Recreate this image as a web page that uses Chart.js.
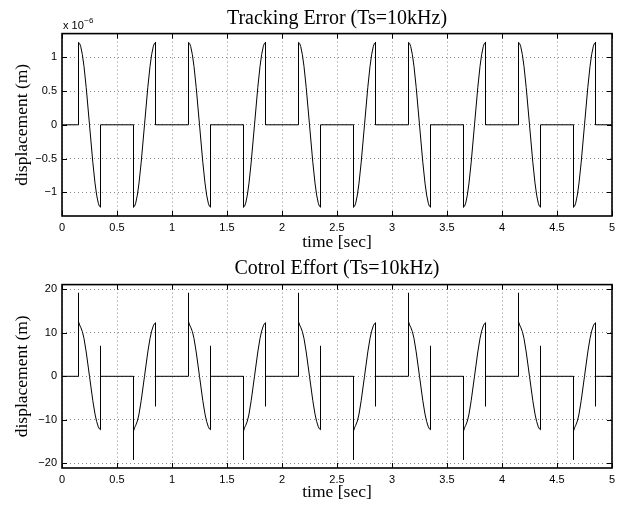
<!DOCTYPE html>
<html>
<head>
<meta charset="utf-8">
<script src="https://cdn.jsdelivr.net/npm/chart.js@4.4.1/dist/chart.umd.min.js"></script>
<style>
  html, body { margin: 0; padding: 0; background: #ffffff; }
  #wrap { position: relative; width: 627px; height: 505px; overflow: hidden; background: #fff; }
  #cA { position: absolute; left: 0; top: 0; }
  #cB { position: absolute; left: 0; top: 250px; }
</style>
</head>
<body>
<div id="wrap">
  <canvas id="cA" width="627" height="250"></canvas>
  <canvas id="cB" width="627" height="255"></canvas>
</div>
<script>
// ---------------- DATA ----------------
// Titles / labels
const titleTop = 'Tracking Error (Ts=10kHz)';
const titleBottom = 'Cotrol Effort (Ts=10kHz)';
const xLabel = 'time [sec]';
const yLabel = 'displacement (m)';

// Tick values
const xTicks = [0, 0.5, 1, 1.5, 2, 2.5, 3, 3.5, 4, 4.5, 5];
const yTicksTop = [-1, -0.5, 0, 0.5, 1];          // in units of 1e-6 m
const yTicksBottom = [-20, -10, 0, 10, 20];

// Tracking error: time (s) and value (x 1e-6 m)
const timeTE = [
  0,
  0.15,0.15,0.16,0.17,0.185,0.20,0.22,0.25,0.28,0.30,0.315,0.33,0.34,0.35,0.35,
  0.65,0.65,0.66,0.67,0.685,0.70,0.72,0.75,0.78,0.80,0.815,0.83,0.84,0.85,0.85,
  1.15,1.15,1.16,1.17,1.185,1.20,1.22,1.25,1.28,1.30,1.315,1.33,1.34,1.35,1.35,
  1.65,1.65,1.66,1.67,1.685,1.70,1.72,1.75,1.78,1.80,1.815,1.83,1.84,1.85,1.85,
  2.15,2.15,2.16,2.17,2.185,2.20,2.22,2.25,2.28,2.30,2.315,2.33,2.34,2.35,2.35,
  2.65,2.65,2.66,2.67,2.685,2.70,2.72,2.75,2.78,2.80,2.815,2.83,2.84,2.85,2.85,
  3.15,3.15,3.16,3.17,3.185,3.20,3.22,3.25,3.28,3.30,3.315,3.33,3.34,3.35,3.35,
  3.65,3.65,3.66,3.67,3.685,3.70,3.72,3.75,3.78,3.80,3.815,3.83,3.84,3.85,3.85,
  4.15,4.15,4.16,4.17,4.185,4.20,4.22,4.25,4.28,4.30,4.315,4.33,4.34,4.35,4.35,
  4.65,4.65,4.66,4.67,4.685,4.70,4.72,4.75,4.78,4.80,4.815,4.83,4.84,4.85,4.85,
  5
];
const errorTE = [
  0,
  0,1.22,1.205,1.16,1.04,0.863,0.554,0,-0.554,-0.863,-1.04,-1.16,-1.205,-1.22,0,
  0,-1.22,-1.205,-1.16,-1.04,-0.863,-0.554,0,0.554,0.863,1.04,1.16,1.205,1.22,0,
  0,1.22,1.205,1.16,1.04,0.863,0.554,0,-0.554,-0.863,-1.04,-1.16,-1.205,-1.22,0,
  0,-1.22,-1.205,-1.16,-1.04,-0.863,-0.554,0,0.554,0.863,1.04,1.16,1.205,1.22,0,
  0,1.22,1.205,1.16,1.04,0.863,0.554,0,-0.554,-0.863,-1.04,-1.16,-1.205,-1.22,0,
  0,-1.22,-1.205,-1.16,-1.04,-0.863,-0.554,0,0.554,0.863,1.04,1.16,1.205,1.22,0,
  0,1.22,1.205,1.16,1.04,0.863,0.554,0,-0.554,-0.863,-1.04,-1.16,-1.205,-1.22,0,
  0,-1.22,-1.205,-1.16,-1.04,-0.863,-0.554,0,0.554,0.863,1.04,1.16,1.205,1.22,0,
  0,1.22,1.205,1.16,1.04,0.863,0.554,0,-0.554,-0.863,-1.04,-1.16,-1.205,-1.22,0,
  0,-1.22,-1.205,-1.16,-1.04,-0.863,-0.554,0,0.554,0.863,1.04,1.16,1.205,1.22,0,
  0
];

// Control effort: time (s) and value
const timeCE = [
  0,
  0.15,0.15,0.15,0.16,0.17,0.185,0.20,0.22,0.25,0.28,0.30,0.315,0.33,0.34,0.35,0.35,0.35,
  0.65,0.65,0.65,0.66,0.67,0.685,0.70,0.72,0.75,0.78,0.80,0.815,0.83,0.84,0.85,0.85,0.85,
  1.15,1.15,1.15,1.16,1.17,1.185,1.20,1.22,1.25,1.28,1.30,1.315,1.33,1.34,1.35,1.35,1.35,
  1.65,1.65,1.65,1.66,1.67,1.685,1.70,1.72,1.75,1.78,1.80,1.815,1.83,1.84,1.85,1.85,1.85,
  2.15,2.15,2.15,2.16,2.17,2.185,2.20,2.22,2.25,2.28,2.30,2.315,2.33,2.34,2.35,2.35,2.35,
  2.65,2.65,2.65,2.66,2.67,2.685,2.70,2.72,2.75,2.78,2.80,2.815,2.83,2.84,2.85,2.85,2.85,
  3.15,3.15,3.15,3.16,3.17,3.185,3.20,3.22,3.25,3.28,3.30,3.315,3.33,3.34,3.35,3.35,3.35,
  3.65,3.65,3.65,3.66,3.67,3.685,3.70,3.72,3.75,3.78,3.80,3.815,3.83,3.84,3.85,3.85,3.85,
  4.15,4.15,4.15,4.16,4.17,4.185,4.20,4.22,4.25,4.28,4.30,4.315,4.33,4.34,4.35,4.35,4.35,
  4.65,4.65,4.65,4.66,4.67,4.685,4.70,4.72,4.75,4.78,4.80,4.815,4.83,4.84,4.85,4.85,4.85,
  5
];
const effortCE = [
  0,
  0,19.2,12.6,11.8,11.3,10.3,8.7,5.6,0,-5.6,-8.7,-10.4,-11.6,-12.1,-12.3,7.0,0,
  0,-19.2,-12.6,-11.8,-11.3,-10.3,-8.7,-5.6,0,5.6,8.7,10.4,11.6,12.1,12.3,-6.9,0,
  0,19.2,12.6,11.8,11.3,10.3,8.7,5.6,0,-5.6,-8.7,-10.4,-11.6,-12.1,-12.3,7.0,0,
  0,-19.2,-12.6,-11.8,-11.3,-10.3,-8.7,-5.6,0,5.6,8.7,10.4,11.6,12.1,12.3,-6.9,0,
  0,19.2,12.6,11.8,11.3,10.3,8.7,5.6,0,-5.6,-8.7,-10.4,-11.6,-12.1,-12.3,7.0,0,
  0,-19.2,-12.6,-11.8,-11.3,-10.3,-8.7,-5.6,0,5.6,8.7,10.4,11.6,12.1,12.3,-6.9,0,
  0,19.2,12.6,11.8,11.3,10.3,8.7,5.6,0,-5.6,-8.7,-10.4,-11.6,-12.1,-12.3,7.0,0,
  0,-19.2,-12.6,-11.8,-11.3,-10.3,-8.7,-5.6,0,5.6,8.7,10.4,11.6,12.1,12.3,-6.9,0,
  0,19.2,12.6,11.8,11.3,10.3,8.7,5.6,0,-5.6,-8.7,-10.4,-11.6,-12.1,-12.3,7.0,0,
  0,-19.2,-12.6,-11.8,-11.3,-10.3,-8.7,-5.6,0,5.6,8.7,10.4,11.6,12.1,12.3,-6.9,0,
  0
];

// ---------------- CHART ----------------
const SANS = '"Liberation Sans", Arial, Helvetica, sans-serif';
const SERIF = '"Liberation Serif", "Times New Roman", serif';

const fmt = v => String(v).replace('-', '\u2212');

// box + inward ticks + multiplier text
const boxPlugin = {
  id: 'matlabBox',
  afterDraw(chart, args, opts) {
    const { ctx, chartArea: a } = chart;
    const xs = chart.scales.x, ys = chart.scales.y;
    ctx.save();
    ctx.strokeStyle = '#000';
    ctx.lineWidth = 1;
    const L = 5;
    ctx.beginPath();
    xs.ticks.forEach(t => {
      const px = Math.round(xs.getPixelForValue(t.value)) + 0.5;
      ctx.moveTo(px, a.bottom); ctx.lineTo(px, a.bottom - L);
      ctx.moveTo(px, a.top); ctx.lineTo(px, a.top + L);
    });
    ys.ticks.forEach(t => {
      const py = Math.round(ys.getPixelForValue(t.value)) + 0.5;
      ctx.moveTo(a.left, py); ctx.lineTo(a.left + L, py);
      ctx.moveTo(a.right, py); ctx.lineTo(a.right - L, py);
    });
    ctx.stroke();
    ctx.lineWidth = 1.6;
    ctx.strokeRect(a.left, a.top, a.right - a.left, a.bottom - a.top);
    if (opts && opts.exponent) {
      ctx.fillStyle = '#000';
      ctx.textBaseline = 'alphabetic';
      ctx.textAlign = 'left';
      ctx.font = '11px ' + SANS;
      const base = 'x 10';
      ctx.fillText(base, a.left + 1, a.top - 5);
      const w = ctx.measureText(base).width;
      ctx.font = '8px ' + SANS;
      ctx.fillText(opts.exponent, a.left + 1 + w + 0.5, a.top - 11);
    }
    ctx.restore();
  }
};

function makeChart(canvasId, times, values, yTicks, yMin, yMax, title, titlePad, xAxisHeight, xTitlePadBottom, exponent) {
  const data = times.map((t, i) => ({ x: t, y: values[i] }));
  return new Chart(document.getElementById(canvasId), {
    type: 'line',
    data: {
      datasets: [{
        data: data,
        borderColor: '#000000',
        borderWidth: 1,
        pointRadius: 0,
        pointHoverRadius: 0,
        tension: 0,
        fill: false
      }]
    },
    options: {
      responsive: false,
      animation: false,
      devicePixelRatio: 1,
      layout: { padding: { top: 0, right: 15, bottom: 0, left: 0 } },
      plugins: {
        legend: { display: false },
        tooltip: { enabled: false },
        title: {
          display: true,
          fullSize: false,
          text: title,
          color: '#000',
          font: { family: SERIF, size: 20, weight: 'normal', lineHeight: 1.2 },
          padding: titlePad
        },
        matlabBox: { exponent: exponent }
      },
      scales: {
        x: {
          type: 'linear',
          min: 0, max: 5,
          afterBuildTicks: s => { s.ticks = xTicks.map(v => ({ value: v })); },
          afterFit: s => { s.height = xAxisHeight; },
          ticks: {
            color: '#000',
            font: { family: SANS, size: 11 },
            padding: 5,
            maxRotation: 0,
            autoSkip: false,
            callback: v => fmt(v)
          },
          grid: { color: '#8a8a8a', lineWidth: 1, drawTicks: false },
          border: { display: false, dash: [1, 3] },
          title: {
            display: true,
            text: xLabel,
            color: '#000',
            font: { family: SERIF, size: 17.5, lineHeight: 1.2 },
            padding: { top: 0, bottom: xTitlePadBottom }
          }
        },
        y: {
          type: 'linear',
          min: yMin, max: yMax,
          afterBuildTicks: s => { s.ticks = yTicks.map(v => ({ value: v })); },
          afterFit: s => { s.width = 62; },
          ticks: {
            color: '#000',
            font: { family: SANS, size: 11 },
            padding: 5,
            autoSkip: false,
            callback: v => fmt(v)
          },
          grid: { color: '#8a8a8a', lineWidth: 1, drawTicks: false },
          border: { display: false, dash: [1, 3] },
          title: {
            display: true,
            text: yLabel,
            color: '#000',
            font: { family: SERIF, size: 17.5, lineHeight: 1.2 },
            padding: { top: 11.5, bottom: 0 }
          }
        }
      }
    },
    plugins: [boxPlugin]
  });
}

makeChart('cA', timeTE, errorTE, yTicksTop, -1.35, 1.35, titleTop, { top: 7, bottom: 2.6 }, 34, -3, '\u22126');
makeChart('cB', timeCE, effortCE, yTicksBottom, -21.1, 21.1, titleBottom, { top: 7, bottom: 3.6 }, 37, 2, null);
</script>
</body>
</html>
